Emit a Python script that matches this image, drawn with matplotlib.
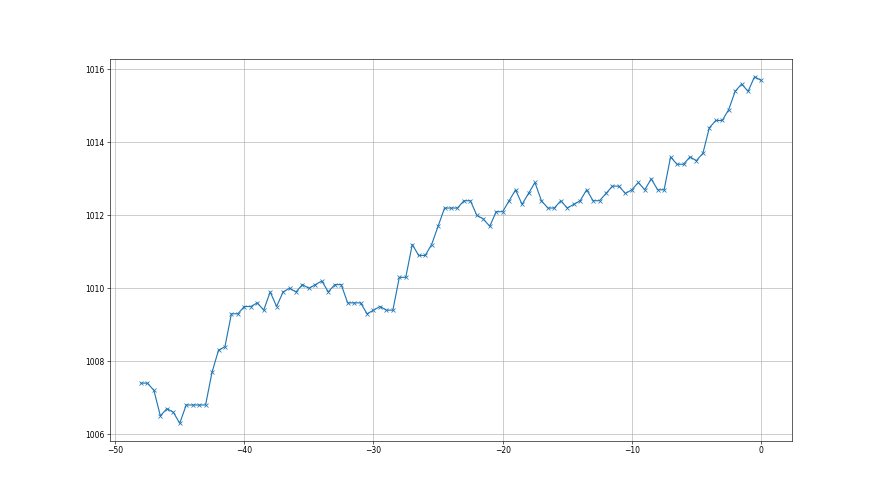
import matplotlib
matplotlib.use('Agg')
import matplotlib.pyplot as plt
import numpy as np

# hours relative to now, half-hour steps
hours = np.arange(-48, 0.01, 0.5)

pressure = [
    1007.4, 1007.4, 1007.2, 1006.5, 1006.7, 1006.6, 1006.3, 1006.8, 1006.8, 1006.8,
    1006.8, 1007.7, 1008.3, 1008.4, 1009.3, 1009.3, 1009.5, 1009.5, 1009.6, 1009.4,
    1009.9, 1009.5, 1009.9, 1010.0, 1009.9, 1010.1, 1010.0, 1010.1, 1010.2, 1009.9,
    1010.1, 1010.1, 1009.6, 1009.6, 1009.6, 1009.3, 1009.4, 1009.5, 1009.4, 1009.4,
    1010.3, 1010.3, 1011.2, 1010.9, 1010.9, 1011.2, 1011.7, 1012.2, 1012.2, 1012.2,
    1012.4, 1012.4, 1012.0, 1011.9, 1011.7, 1012.1, 1012.1, 1012.4, 1012.7, 1012.3,
    1012.6, 1012.9, 1012.4, 1012.2, 1012.2, 1012.4, 1012.2, 1012.3, 1012.4, 1012.7,
    1012.4, 1012.4, 1012.6, 1012.8, 1012.8, 1012.6, 1012.7, 1012.9, 1012.7, 1013.0,
    1012.7, 1012.7, 1013.6, 1013.4, 1013.4, 1013.6, 1013.5, 1013.7, 1014.4, 1014.6,
    1014.6, 1014.9, 1015.4, 1015.6, 1015.4, 1015.8, 1015.7,
]

fig, ax = plt.subplots(figsize=(16, 9), dpi=55)
ax.plot(hours, pressure, marker='x', color='#1f77b4')
ax.grid(True)

plt.savefig('out.png', dpi=55)
plt.close()
